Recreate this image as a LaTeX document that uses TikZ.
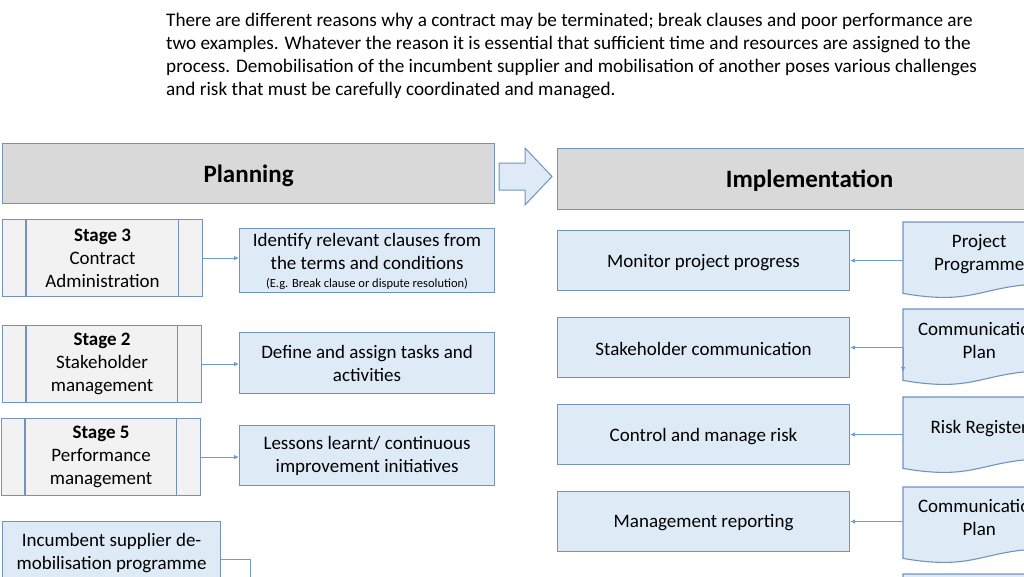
\documentclass[tikz,border=0pt]{standalone}
\usepackage{fontspec}
\setmainfont{Carlito}
\usetikzlibrary{arrows.meta,calc}
\definecolor{bordercol}{RGB}{114,147,193}
\definecolor{grayfill}{RGB}{217,217,217}
\definecolor{bluefill}{RGB}{222,235,247}
\definecolor{stagefill}{RGB}{242,242,242}
\definecolor{arrcol}{RGB}{104,158,208}
\newcommand{\docbody}[1]{%
  \draw[docline] (#1.north west) -- (#1.north east) -- (#1.south east)
    .. controls ($(#1.south)$) and ($(#1.south)+(0,23.1)$) .. ($(#1.south west)+(0,10)$) -- cycle;}
\newcommand{\lowr}[2]{\raisebox{-#1}[\height][\depth]{#2}}
\tikzset{
  box/.style={rectangle, draw=bordercol, line width=1.1pt, anchor=north west, inner sep=0pt, align=center,
    font=\fontsize{19}{23}\selectfont},
  headbox/.style={box, fill=grayfill, font=\fontsize{25}{30}\selectfont\bfseries},
  stagebox/.style={box, fill=stagefill, minimum width=199pt, minimum height=77pt},
  taskbox/.style={box, fill=bluefill, minimum width=255pt, minimum height=60pt},
  implbox/.style={box, fill=bluefill, minimum width=292pt, minimum height=60pt},
  docnode/.style={rectangle, anchor=north west, inner sep=0pt, minimum width=152pt, minimum height=61pt,
    align=center, font=\fontsize{19}{23}\selectfont},
  docline/.style={draw=bordercol, line width=1.1pt, fill=bluefill},
  arr/.style={draw=arrcol, line width=0.8pt, -{Latex[length=5pt,width=4.5pt]}},
  bigarrow/.style={draw=bordercol, line width=1pt, fill=bluefill}
}
\begin{document}
\begin{tikzpicture}[x=1pt,y=-1pt]
\path[use as bounding box] (0,0) rectangle (1024,576);
\clip (0,0) rectangle (1024,576);

\node[anchor=north west, inner sep=0pt, align=left, font=\fontsize{19.2}{23}\selectfont] (intro) at (166,13)
  {There are different reasons why a contract may be terminated; break clauses and poor performance are\\
   two examples. Whatever the reason it is essential that sufficient time and resources are assigned to the\\
   process. Demobilisation of the incumbent supplier and mobilisation of another poses various challenges\\
   and risk that must be carefully coordinated and managed.};

% headers
\node[headbox, minimum width=492pt, minimum height=60pt] (plan) at (2,143) {\lowr{2pt}{Planning}};
\node[headbox, minimum width=504pt, minimum height=61pt] (impl) at (557,148) {\lowr{2pt}{Implementation}};
\draw[bigarrow] (499,163) -- (525,163) -- (525,148) -- (552,176.5) -- (525,205) -- (525,190) -- (499,190) -- cycle;

% stage boxes
\node[stagebox, minimum width=200pt] (st3) at (2,219) {\textbf{Stage 3}\\Contract\\Administration};
\node[stagebox] (st2) at (2,325) {\textbf{Stage 2}\\Stakeholder\\management};
\node[stagebox] (st5) at (1,418) {\textbf{Stage 5}\\Performance\\management};
\foreach \s in {st3,st2,st5}{
  \draw[bordercol, line width=1.1pt] ([xshift=24pt]\s.north west) -- ([xshift=24pt]\s.south west);
  \draw[bordercol, line width=1.1pt] ([xshift=-25pt]\s.north east) -- ([xshift=-25pt]\s.south east);
}

% task boxes
\node[taskbox] (ident) at (239,228) {\lowr{2pt}{\begin{tabular}{@{}c@{}}Identify relevant clauses from\\the terms and conditions\\[-5pt]{\fontsize{12.5}{14}\selectfont (E.g. Break clause or dispute resolution)}\end{tabular}}};
\node[taskbox, minimum height=61pt] (defn) at (239,332) {Define and assign tasks and\\activities};
\node[taskbox] (less) at (239,425) {Lessons learnt/ continuous\\improvement initiatives};

\draw[arr] (st3.east) -- (st3.east -| ident.west);
\draw[arr] (st2.east) -- (st2.east -| defn.west);
\draw[arr] (st5.east) -- (st5.east -| less.west);

% incumbent
\node[taskbox, minimum width=218pt, minimum height=62pt] (inc) at (2,521) {Incumbent supplier de-\\mobilisation programme};
\coordinate (incend) at (250,600);
\draw[arr] ([yshift=-7pt]inc.east) -| (incend);

% implementation boxes
\node[implbox] (mon) at (557,230) {\lowr{2pt}{Monitor project progress}};
\node[implbox] (sc) at (557,317) {\lowr{1pt}{Stakeholder communication}};
\node[implbox] (cr) at (557,404) {\lowr{2pt}{Control and manage risk}};
\node[implbox] (mr) at (557,491) {\lowr{1pt}{Management reporting}};

% documents
\node[docnode] (pp) at (903,222) {};
\node[docnode] (cp1) at (903,309) {};
\node[docnode] (rr) at (903,397) {};
\node[docnode] (cp2) at (903,487) {};
\node[docnode] (dx) at (903,574) {};
\foreach \d in {pp,cp1,rr,cp2,dx}{\docbody{\d}}
\node[docnode] at (903,223) {Project\\Programme};
\node[docnode] at (903,310) {Communication\\Plan};
\node[docnode] at (903,398) {Risk Register};
\node[docnode] at (903,487) {Communication\\Plan};

\draw[arr] (pp.west |- mon.east) -- (mon.east);
\draw[arr] (cp1.west |- sc.east) -- (sc.east);
\draw[arr] (rr.west |- cr.east) -- (cr.east);
\draw[arr] (cp2.west |- mr.east) -- (mr.east);
\coordinate (cpdn) at (904,372);
\draw[arr] (cp1.west |- sc.east) -- (cp1.west |- cpdn);
\end{tikzpicture}
\end{document}
